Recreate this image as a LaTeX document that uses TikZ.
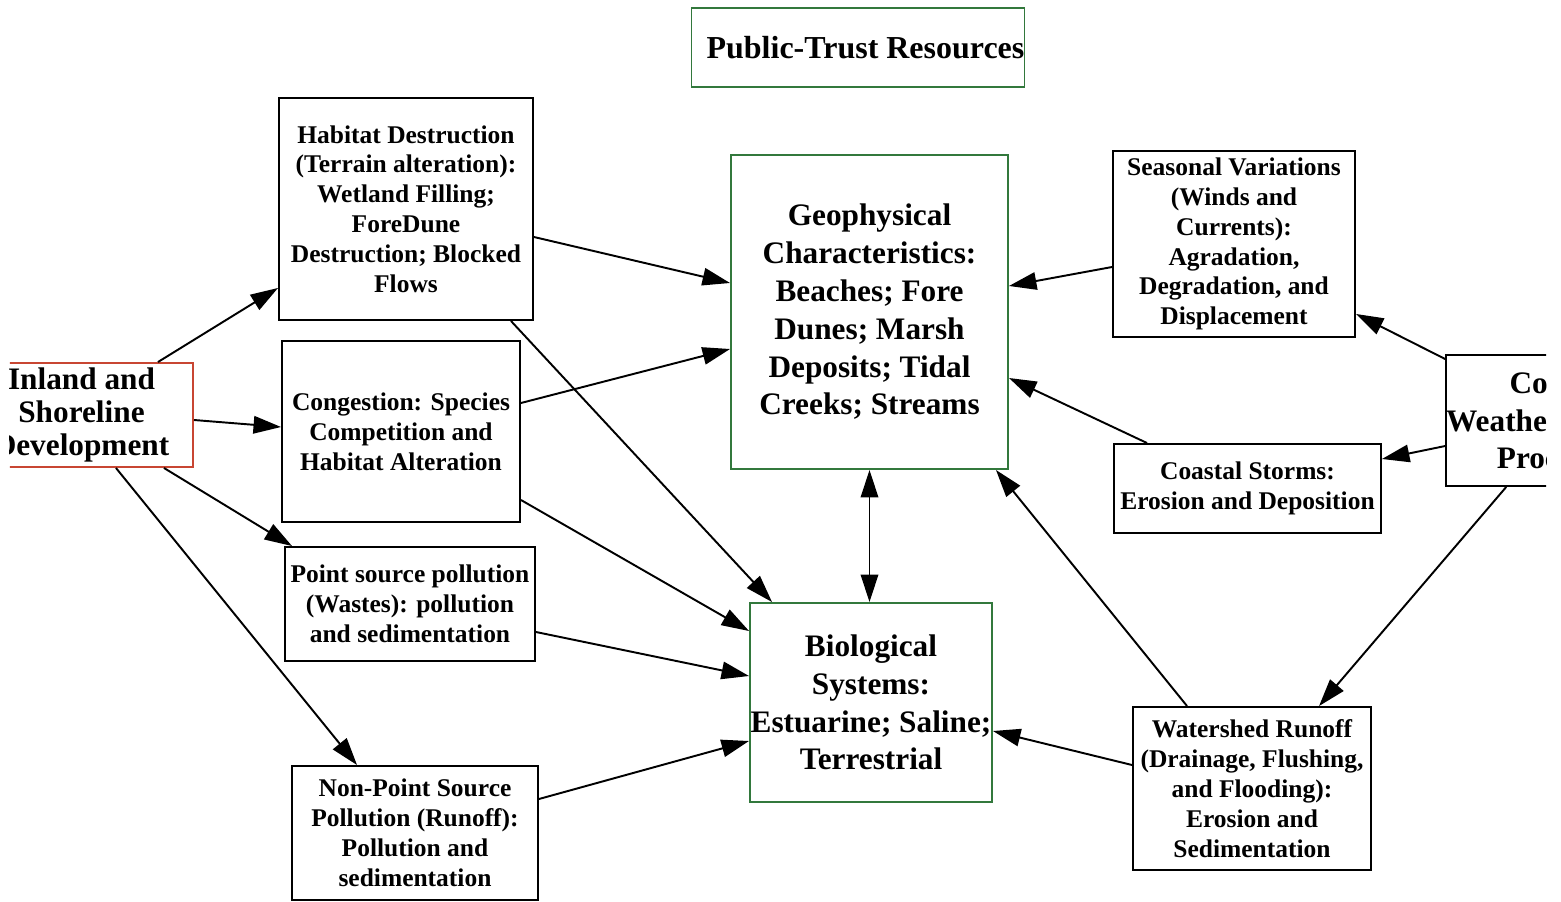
\documentclass[tikz,border=0pt]{standalone}
\usepackage{fontspec}
\setmainfont{Liberation Serif}
\usepackage{tikz}
\usetikzlibrary{shapes}
\usetikzlibrary{arrows.meta}
\definecolor{boxgreen}{RGB}{50,120,60}
\definecolor{boxred}{RGB}{200,70,50}
\tikzset{
    boxcell/.style = {rectangle, draw=black, line width=1.1pt, align=center, inner sep=0pt, fill=white},
    smallcell/.style = {boxcell, font=\fontsize{14.5}{17}\selectfont\bfseries},
    bigcell/.style = {boxcell, font=\fontsize{17.8}{21.5}\selectfont\bfseries},
    greencell/.style = {bigcell, draw=boxgreen},
    edgen/.style = {-{Triangle[length=5.5mm,width=3.5mm]}, line width=1.1pt},
    edged/.style = {{Triangle[length=5.5mm,width=3.5mm]}-{Triangle[length=5.5mm,width=3.5mm]}, line width=1.1pt} % both ways
}

\begin{document}
\begin{tikzpicture}
  \useasboundingbox (0,0) rectangle (31.22,-18.04);
  \clip (0.2,0) rectangle (30.92,-18.04);

\node[greencell, font=\fontsize{18.2}{21}\selectfont\bfseries, minimum width=6.66cm, minimum height=1.58cm] at (17.16,-0.95) (trust) {\hspace*{0.3cm}Public-Trust Resources};
\node[boxcell, draw=boxred, font=\fontsize{17.8}{18.6}\selectfont\bfseries, minimum width=4.46cm, minimum height=2.08cm] at (1.63,-8.30) (inland) {Inland and\\Shoreline\\Development};

\node[smallcell, minimum width=5.08cm, minimum height=4.44cm] at (8.12,-4.18) (habitat) {Habitat Destruction\\(Terrain alteration):\\Wetland Filling;\\ForeDune\\Destruction; Blocked\\Flows};
\node[smallcell, minimum width=4.76cm, minimum height=3.62cm] at (8.02,-8.63) (congest) {Congestion: Species\\Competition and\\Habitat Alteration};
\node[smallcell, minimum width=5.00cm, minimum height=2.28cm] at (8.20,-12.08) (point) {Point source pollution\\(Wastes): pollution\\and sedimentation};
\node[smallcell, minimum width=4.92cm, minimum height=2.68cm] at (8.30,-16.66) (nonpoint) {Non-Point Source\\Pollution (Runoff):\\Pollution and\\sedimentation};

\node[greencell, minimum width=5.54cm, minimum height=6.28cm] at (17.39,-6.24) (geo) {Geophysical\\Characteristics:\\Beaches; Fore\\Dunes; Marsh\\Deposits; Tidal\\Creeks; Streams};
\node[greencell, minimum width=4.84cm, minimum height=3.98cm] at (17.42,-14.05) (bio) {Biological\\Systems:\\Estuarine; Saline;\\Terrestrial};

\node[smallcell, minimum width=4.84cm, minimum height=3.72cm] at (24.68,-4.88) (seasonal) {Seasonal Variations\\(Winds and\\Currents):\\Agradation,\\Degradation, and\\Displacement};
\node[smallcell, minimum width=5.34cm, minimum height=1.78cm] at (24.95,-9.77) (storms) {Coastal Storms:\\Erosion and Deposition};
\node[smallcell, minimum width=4.76cm, minimum height=3.26cm] at (25.04,-15.77) (runoff) {Watershed Runoff\\(Drainage, Flushing,\\and Flooding):\\Erosion and\\Sedimentation};
\node[bigcell, minimum width=4.52cm, minimum height=2.62cm] at (31.20,-8.41) (weather) {Coastal\\Weather and Sea\\Processes};

  \draw[edgen] ([xshift=-0.72cm]inland.north east) -- ([yshift=0.66cm]habitat.south west);
  \draw[edgen] ([yshift=-0.10cm]inland.east) -- ([yshift=0.09cm]congest.west);
  \draw[edgen] ([xshift=-0.60cm]inland.south east) -- ([xshift=0.16cm]point.north west);
  \draw[edgen] ([xshift=-1.56cm]inland.south east) -- ([xshift=1.32cm]nonpoint.north west);

  \draw[edgen] ([yshift=-0.56cm]habitat.east) -- ([yshift=0.58cm]geo.west);
  \draw[edgen] ([xshift=-0.46cm]habitat.south east) -- ([xshift=0.46cm]bio.north west);
  \draw[edgen] ([yshift=0.57cm]congest.east) -- ([yshift=-0.74cm]geo.west);
  \draw[edgen] ([yshift=-1.37cm]congest.east) -- ([yshift=1.43cm]bio.west);
  \draw[edgen] ([yshift=-0.56cm]point.east) -- ([yshift=0.53cm]bio.west);
  \draw[edgen] ([yshift=0.68cm]nonpoint.east) -- ([yshift=-0.77cm]bio.west);

  \draw[edged] (geo.south) -- (geo.south |- bio.north);

  \draw[edgen] ([yshift=-0.46cm]seasonal.west) -- ([yshift=0.52cm]geo.east);
  \draw[edgen] ([xshift=0.68cm]storms.north west) -- ([yshift=-1.32cm]geo.east);
  \draw[edgen] ([xshift=1.10cm]runoff.north west) -- ([xshift=-0.26cm]geo.south east);
  \draw[edgen] ([yshift=0.47cm]runoff.west) -- ([yshift=-0.57cm]bio.east);

  \draw[edgen] ([yshift=-0.10cm]weather.north west) -- ([yshift=0.48cm]seasonal.south east);
  \draw[edgen] ([yshift=-0.51cm]weather.west) -- ([yshift=0.59cm]storms.east);
  \draw[edgen] ([xshift=1.22cm]weather.south west) -- ([xshift=3.74cm]runoff.north west);

\end{tikzpicture}
\end{document}
